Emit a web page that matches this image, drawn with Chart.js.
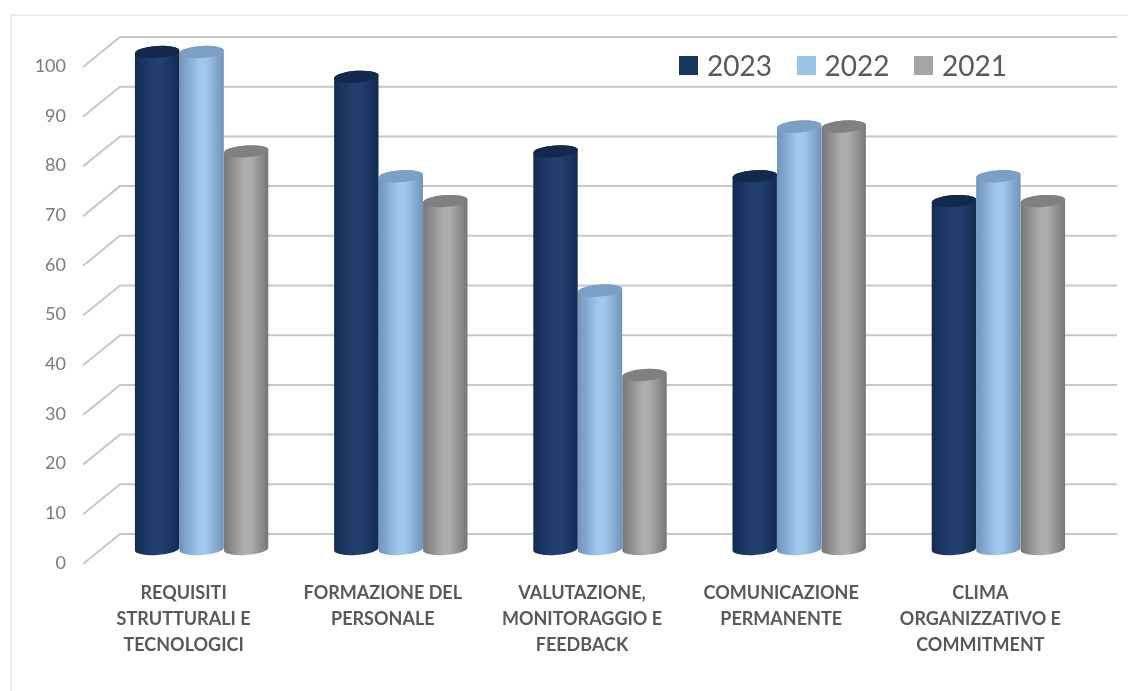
<!DOCTYPE html>
<html lang="it">
<head>
<meta charset="utf-8">
<title>Grafico</title>
<script src="https://cdn.jsdelivr.net/npm/chart.js@4/dist/chart.umd.min.js"></script>
<style>
    html, body { margin: 0; padding: 0; background: #fff; }
    #wrap { position: relative; width: 1128px; height: 691px; overflow: hidden; }
    #frame { position: absolute; left: 10px; top: 14px; width: 1130px; height: 690px; border: 2px solid #ececec; box-sizing: border-box; }
    #chart { position: absolute; left: 0; top: 0; }
    #legend { position: absolute; left: 679px; top: 46px; display: flex; font: 28px Lato, sans-serif; color: #595959; line-height: 38px; }
    #legend .item { display: flex; align-items: center; width: 117.5px; }
    #legend .box { width: 19px; height: 19px; margin-right: 9px; }
</style>
</head>
<body>
<div id="wrap">
    <div id="frame"></div>
    <canvas id="chart" width="1128" height="691"></canvas>
    <div id="legend"></div>
</div>
<script>
const categories = [
    ['REQUISITI', 'STRUTTURALI E', 'TECNOLOGICI'],
    ['FORMAZIONE DEL', 'PERSONALE'],
    ['VALUTAZIONE,', 'MONITORAGGIO E', 'FEEDBACK'],
    ['COMUNICAZIONE', 'PERMANENTE'],
    ['CLIMA', 'ORGANIZZATIVO E', 'COMMITMENT']
];
const values2023 = [100, 95, 80, 75, 70];
const values2022 = [100, 75, 52, 85, 75];
const values2021 = [80, 70, 35, 85, 70];

const gridColor = '#c8c8c8';

// edge / middle / lid shades for each series colour
const shades = {
    '#17375e': { edge: '#132b52', mid: '#22406f', lid: '#12294d' },
    '#9cc3e9': { edge: '#7093bc', mid: '#a0c7ec', lid: '#7b9fc7' },
    '#a6a6a6': { edge: '#767676', mid: '#adadad', lid: '#808080' }
};

// bar drawn as an upright cylinder
class CylinderBar extends Chart.BarElement {
    draw(ctx) {
        const { x, y, base, width } = this.getProps(['x', 'y', 'base', 'width']);
        const shade = shades[this.options.backgroundColor];
        const rx = width / 2;
        const ry = 6;
        const tilt = -0.07;

        const grad = ctx.createLinearGradient(x - rx, 0, x + rx, 0);
        grad.addColorStop(0, shade.edge);
        grad.addColorStop(0.45, shade.mid);
        grad.addColorStop(0.6, shade.mid);
        grad.addColorStop(1, shade.edge);

        ctx.save();
        ctx.fillStyle = grad;
        ctx.beginPath();
        ctx.ellipse(x, base, rx, ry, tilt, 0, Math.PI);
        ctx.ellipse(x, y, rx, ry, tilt, Math.PI, Math.PI * 2);
        ctx.closePath();
        ctx.fill();

        ctx.fillStyle = shade.lid;
        ctx.beginPath();
        ctx.ellipse(x, y, rx, ry, tilt, 0, Math.PI * 2);
        ctx.fill();
        ctx.restore();
    }
}
CylinderBar.id = 'cylinderBar';
Chart.register(CylinderBar);

class CylinderController extends Chart.BarController {}
CylinderController.id = 'cylinder';
CylinderController.defaults = { ...Chart.BarController.defaults, dataElementType: 'cylinderBar' };
Chart.register(CylinderController);

// back wall lines with the short slanted part going to the labels
const wallGrid = {
    id: 'wallGrid',
    beforeDatasetsDraw(chart) {
        const { ctx, chartArea, scales: { y } } = chart;
        const depthX = 19;
        const depthY = 15;
        ctx.save();
        ctx.strokeStyle = gridColor;
        ctx.lineWidth = 2;
        y.ticks.forEach((tick) => {
            const py = y.getPixelForValue(tick.value);
            ctx.beginPath();
            ctx.moveTo(chartArea.left - depthX, py + depthY);
            ctx.lineTo(chartArea.left + depthX - 1, py - depthY);
            ctx.lineTo(chartArea.right + depthX, py - depthY);
            ctx.stroke();
        });
        ctx.restore();
    }
};

const chart = new Chart(document.querySelector('#chart').getContext('2d'), {
    type: 'cylinder',
    data: {
        labels: categories,
        datasets: [
            { label: '2023', data: values2023, backgroundColor: '#17375e', clip: false },
            { label: '2022', data: values2022, backgroundColor: '#9cc3e9', clip: false },
            { label: '2021', data: values2021, backgroundColor: '#a6a6a6', clip: false }
        ]
    },
    options: {
        responsive: false,
        animation: false,
        layout: { padding: { top: 52, right: 30 } },
        datasets: { cylinder: { barPercentage: 1, categoryPercentage: 0.67 } },
        plugins: {
            legend: { display: false },
            tooltip: { enabled: false }
        },
        scales: {
            x: {
                grid: { display: false, drawTicks: false },
                border: { display: false },
                afterFit: (scale) => { scale.height = 142; },
                ticks: {
                    maxRotation: 0,
                    autoSkip: false,
                    padding: 31,
                    labelOffset: -18,
                    color: '#595959',
                    font: { family: 'Lato, sans-serif', size: 18, weight: 'bold', lineHeight: 1.44 }
                }
            },
            y: {
                min: 0,
                max: 100,
                grid: { display: false, drawTicks: false },
                border: { display: false },
                afterFit: (scale) => { scale.width = 102; },
                ticks: {
                    stepSize: 10,
                    padding: 36,
                    labelOffset: 14,
                    color: '#7a7a7a',
                    font: { family: 'Lato, sans-serif', size: 18 }
                }
            }
        }
    },
    plugins: [wallGrid]
});

// legend row
const legendBox = document.querySelector('#legend');
chart.data.datasets.forEach((ds) => {
    const item = document.createElement('div');
    item.className = 'item';
    const box = document.createElement('span');
    box.className = 'box';
    box.style.background = ds.backgroundColor;
    item.appendChild(box);
    item.appendChild(document.createTextNode(ds.label));
    legendBox.appendChild(item);
});
</script>
</body>
</html>
